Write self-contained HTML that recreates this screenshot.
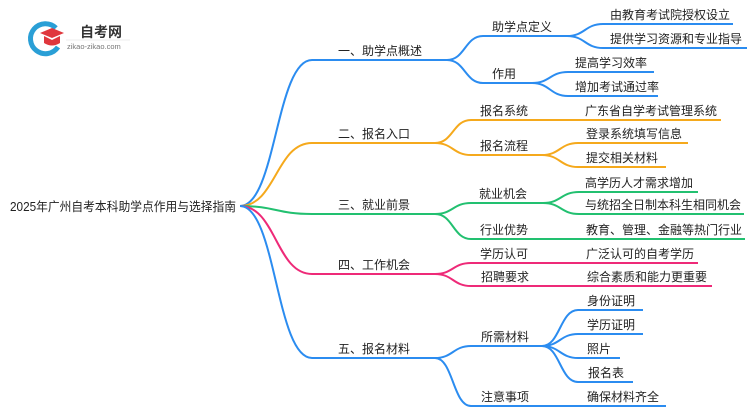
<!DOCTYPE html>
<html><head><meta charset="utf-8"><style>
html,body{margin:0;padding:0;background:#fff;}
svg{display:block;}
text{font-family:"Liberation Sans","Noto Sans CJK SC",sans-serif;font-size:12px;fill:#222;}
</style></head><body>
<svg width="750" height="410" viewBox="0 0 750 410" xmlns="http://www.w3.org/2000/svg">
<g>
<path d="M56 28 A15 15 0 1 0 58 47" fill="none" stroke="#2a9fd6" stroke-width="5"/>
<path d="M40 33 L52 28 L64 33 L52 38 Z" fill="#e0373d"/>
<path d="M44 36 L44 43 Q52 48 60 43 L60 36 L52 40 Z" fill="#e0373d"/>
<text x="80" y="37" style="font-size:14px;font-weight:bold;fill:#333">自考网</text>
<line x1="66" y1="40" x2="130" y2="40" stroke="#ddd" stroke-width="0.6"/>
<text x="67" y="49" style="font-size:7.5px;fill:#777">zikao-zikao.com</text>
</g>
<g fill="none" stroke-width="2">
<path d="M240 206 C276 206 276 60 312 60 L447 60" stroke="#2b8cf0"/>
<path d="M240 206 C276 206 276 143 312 143 L435 143" stroke="#f5a91c"/>
<path d="M240 206 C276 206 276 214 312 214 L435 214" stroke="#22c070"/>
<path d="M240 206 C276 206 276 274 312 274 L435 274" stroke="#ee2a78"/>
<path d="M240 206 C276 206 276 358 312 358 L435 358" stroke="#2b8cf0"/>
<path d="M447 60 C465 60 465 36 483 36 L567 36" stroke="#2b8cf0"/>
<path d="M447 60 C465 60 465 83 483 83 L532 83" stroke="#2b8cf0"/>
<path d="M567 36 C585 36 585 24 603 24 L733 24" stroke="#2b8cf0"/>
<path d="M567 36 C585 36 585 48 603 48 L747 48" stroke="#2b8cf0"/>
<path d="M532 83 C550 83 550 72 568 72 L654 72" stroke="#2b8cf0"/>
<path d="M532 83 C550 83 550 96 568 96 L658 96" stroke="#2b8cf0"/>
<path d="M435 143 C453 143 453 120 471 120 L721 120" stroke="#f5a91c"/>
<path d="M435 143 C453 143 453 155 471 155 L542 155" stroke="#f5a91c"/>
<path d="M542 155 C560 155 560 143 578 143 L688 143" stroke="#f5a91c"/>
<path d="M542 155 C560 155 560 167 578 167 L666 167" stroke="#f5a91c"/>
<path d="M435 214 C453 214 453 203 471 203 L543 203" stroke="#22c070"/>
<path d="M435 214 C453 214 453 239 471 239 L745 239" stroke="#22c070"/>
<path d="M543 203 C561 203 561 192 579 192 L698 192" stroke="#22c070"/>
<path d="M543 203 C561 203 561 214 579 214 L744 214" stroke="#22c070"/>
<path d="M435 274 C453 274 453 263 471 263 L698 263" stroke="#ee2a78"/>
<path d="M435 274 C453 274 453 286 471 286 L712 286" stroke="#ee2a78"/>
<path d="M435 358 C453 358 453 346 471 346 L542 346" stroke="#2b8cf0"/>
<path d="M435 358 C453 358 453 406 471 406 L666 406" stroke="#2b8cf0"/>
<path d="M542 346 C560 346 560 310 578 310 L643 310" stroke="#2b8cf0"/>
<path d="M542 346 C560 346 560 334 578 334 L643 334" stroke="#2b8cf0"/>
<path d="M542 346 C560 346 560 358 578 358 L620 358" stroke="#2b8cf0"/>
<path d="M542 346 C560 346 560 382 578 382 L633 382" stroke="#2b8cf0"/>
</g>
<text x="10" y="211" textLength="226" lengthAdjust="spacingAndGlyphs" style="font-size:12.5px">2025年广州自考本科助学点作用与选择指南</text>
<text x="338" y="55">一、助学点概述</text>
<text x="338" y="138">二、报名入口</text>
<text x="338" y="209">三、就业前景</text>
<text x="338" y="269">四、工作机会</text>
<text x="338" y="353">五、报名材料</text>

<text x="492" y="31">助学点定义</text>
<text x="492" y="78">作用</text>
<text x="480" y="115">报名系统</text>
<text x="480" y="150">报名流程</text>
<text x="479" y="198">就业机会</text>
<text x="480" y="234">行业优势</text>
<text x="480" y="258">学历认可</text>
<text x="481" y="281">招聘要求</text>
<text x="481" y="341">所需材料</text>
<text x="481" y="401">注意事项</text>

<text x="610" y="19">由教育考试院授权设立</text>
<text x="610" y="43">提供学习资源和专业指导</text>
<text x="575" y="67">提高学习效率</text>
<text x="575" y="91">增加考试通过率</text>
<text x="585" y="115">广东省自学考试管理系统</text>
<text x="586" y="138">登录系统填写信息</text>
<text x="586" y="162">提交相关材料</text>
<text x="585" y="187">高学历人才需求增加</text>
<text x="585" y="209">与统招全日制本科生相同机会</text>
<text x="586" y="234">教育、管理、金融等热门行业</text>
<text x="586" y="258">广泛认可的自考学历</text>
<text x="587" y="281">综合素质和能力更重要</text>
<text x="587" y="305">身份证明</text>
<text x="587" y="329">学历证明</text>
<text x="587" y="353">照片</text>
<text x="588" y="377">报名表</text>
<text x="587" y="401">确保材料齐全</text>
</svg>
</body></html>
